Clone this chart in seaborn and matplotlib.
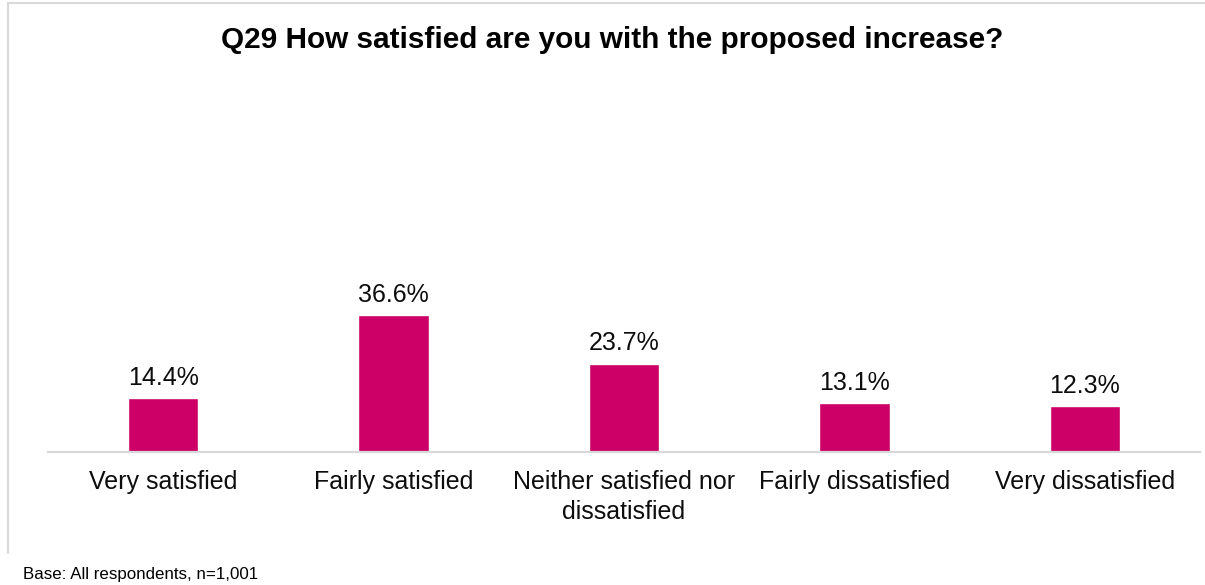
import matplotlib
matplotlib.use("Agg")
import matplotlib.pyplot as plt
import seaborn as sns
import pandas as pd
from matplotlib.lines import Line2D

categories = ["Very satisfied", "Fairly satisfied", "Neither satisfied nor\ndissatisfied",
              "Fairly dissatisfied", "Very dissatisfied"]
values = [14.4, 36.6, 23.7, 13.1, 12.3]
value_labels = ["14.4%", "36.6%", "23.7%", "13.1%", "12.3%"]
title = "Q29 How satisfied are you with the proposed increase?"
footnote = "Base: All respondents, n=1,001"

sns.set_theme(style="white")
plt.rcParams['font.family'] = ['Liberation Sans', 'DejaVu Sans']

W, H = 1205, 585
fig = plt.figure(figsize=(W / 100, H / 100), dpi=100)
ax = fig.add_axes([48 / W, 1 - 452 / H, (1200 - 48) / W, (452 - 79) / H])

df = pd.DataFrame({"cat": categories, "val": values})
sns.barplot(data=df, x="cat", y="val", color="#CC0066", saturation=1, width=0.305, ax=ax)

ax.set_ylim(0, 100)
ax.set_xlim(-0.5, len(categories) - 0.5)
ax.set_xlabel("")
ax.set_ylabel("")
ax.set_yticks([])
for s in ["top", "right", "left"]:
    ax.spines[s].set_visible(False)
ax.spines["bottom"].set_color("#D9D9D9")
ax.spines["bottom"].set_linewidth(1.6)
ax.tick_params(axis="x", length=0, pad=13, labelsize=18, labelcolor="#0D0D0D")
for lbl in ax.get_xticklabels():
    lbl.set_linespacing(1.3)

for i, (v, t) in enumerate(zip(values, value_labels)):
    ax.annotate(t, (i, v), xytext=(0, 6), textcoords="offset points",
                ha="center", va="bottom", fontsize=18, color="#0D0D0D")

fig.text(612 / W, 1 - 40 / H, title, ha="center", va="center",
         fontsize=21.4, fontweight="bold", color="black")
fig.text(23 / W, 1 - 575 / H, footnote, ha="left", va="center",
         fontsize=12.2, color="black")

# light frame (top and left)
fig.add_artist(Line2D([8 / W, 1.0], [1 - 3 / H, 1 - 3 / H], color="#D9D9D9", lw=1.5,
                      transform=fig.transFigure))
fig.add_artist(Line2D([8 / W, 8 / W], [1 - 3 / H, 1 - 553 / H], color="#D9D9D9", lw=1.5,
                      transform=fig.transFigure))

fig.savefig("out.png", dpi=100, facecolor="white")
